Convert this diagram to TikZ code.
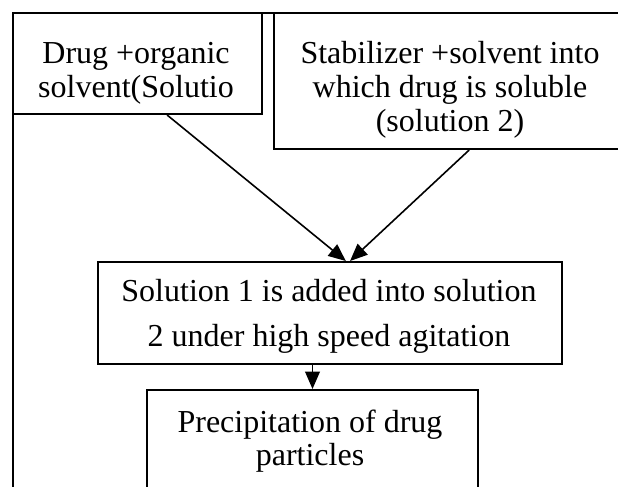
\documentclass[tikz,border=0pt]{standalone}
\usepackage{fontspec}
\setmainfont{Liberation Serif}
\usetikzlibrary{arrows.meta,calc}
\begin{document}
\begin{tikzpicture}[x=0.75pt,y=-0.75pt,
  boxline/.style={draw=black,line width=1.5pt,inner sep=0pt},
  txt/.style={inner sep=0pt,anchor=north,align=center},
  arr/.style={line width=1.2pt,-{Triangle[length=13pt,width=11pt]}}]
\clip (0,0) rectangle (618,486);
\fill[white] (0,0) rectangle (618,486);
% outer frame
\draw[line width=1.5pt] (13,540) -- (13,13) -- (660,13);
% boxes
\node[boxline,minimum width=186.75pt,minimum height=75.75pt] (b1) at (137.5,63.5) {};
\node[boxline,minimum width=267pt,minimum height=102pt] (b2) at (452,81) {};
\node[boxline,minimum width=348pt,minimum height=76.5pt] (b3) at (330,313) {};
\node[boxline,minimum width=248.25pt,minimum height=97.5pt] (b4) at (312.5,455) {};
% texts
\node[txt,font=\fontsize{24}{25.5}\selectfont] (t1) at (136,39)
  {\rule{0pt}{18pt}Drug +organic\\solvent(Solutio};
\node[txt,font=\fontsize{24}{25.5}\selectfont] (t2) at (450,39)
  {\rule{0pt}{18pt}Stabilizer +solvent into\\which drug is soluble\\(solution 2)};
\node[txt,font=\fontsize{24}{33.75}\selectfont] (t3) at (329,277)
  {\rule{0pt}{18pt}Solution 1 is added into solution\\2 under high speed agitation};
\node[txt,font=\fontsize{24}{24.75}\selectfont] (t4) at (310,408)
  {\rule{0pt}{18pt}Precipitation of drug\\particles};
% connectors
\draw[arr] ($(b1.south west)!0.618!(b1.south east)$) -- ($(b3.north west)!0.534!(b3.north east)$);
\draw[arr] ($(b2.south west)!0.548!(b2.south east)$) -- ($(b3.north west)!0.543!(b3.north east)$);
\draw[arr] (b3.south -| b4.north) -- (b4.north);
\end{tikzpicture}
\end{document}
